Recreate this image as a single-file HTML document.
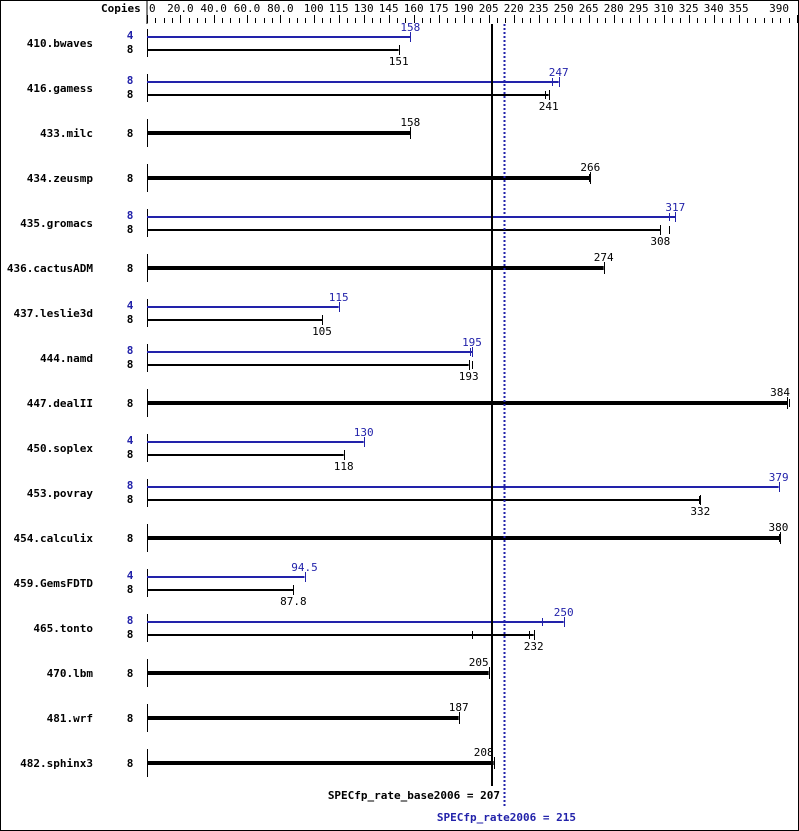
<!DOCTYPE html>
<html><head><meta charset="utf-8"><style>
html,body{margin:0;padding:0;background:#fff}
svg{display:block}
text{font-family:"DejaVu Sans Mono","Liberation Mono",monospace;font-size:11px}
.b{font-weight:bold}
</style></head><body>
<svg id="s" width="799" height="831" xmlns="http://www.w3.org/2000/svg"></svg>
<script>
var s=document.getElementById('s'),h='';
var X=function(v){return 147+v*5/3;};
var BL='#2222aa';
h+='<rect x="0.5" y="0.5" width="798" height="830" fill="#fff" stroke="#000"/>';
h+='<text x="101" y="12" class="b">Copies</text>';
h+='<line x1="147" y1="0" x2="147" y2="24" stroke="#000"/>';
var labs=[0,20,40,60,80,100,115,130,145,160,175,190,205,220,235,250,265,280,295,310,325,340,355,390];
for(var v=0;v<=390;v+=5){var x=Math.round(X(v))+0.5;var maj=labs.indexOf(v)>=0;h+='<line x1="'+x+'" y1="'+(maj?15:18)+'" x2="'+x+'" y2="23" stroke="#000"/>';}
labs.forEach(function(v){var t=v<100&&v>0?v.toFixed(1):''+v;var x=X(v);var a='middle';if(v==0){x=149;a='start';}if(v==390){x=789;a='end';}h+='<text x="'+x+'" y="12" text-anchor="'+a+'">'+t+'</text>';});
var D=[
['410.bwaves',[4,158,[]],[8,151,[]]],
['416.gamess',[8,247,[243]],[8,241,[239]]],
['433.milc',null,[8,158,[]]],
['434.zeusmp',null,[8,266,[265]]],
['435.gromacs',[8,317,[313]],[8,308,[313]]],
['436.cactusADM',null,[8,274,[]]],
['437.leslie3d',[4,115,[]],[8,105,[]]],
['444.namd',[8,195,[194]],[8,193,[195]]],
['447.dealII',null,[8,384,[385]]],
['450.soplex',[4,130,[]],[8,118,[]]],
['453.povray',[8,379,[]],[8,332,[331]]],
['454.calculix',null,[8,380,[379]]],
['459.GemsFDTD',[4,94.5,[]],[8,87.8,[]]],
['465.tonto',[8,250,[237]],[8,232,[195,229]]],
['470.lbm',null,[8,205,[]],'end'],
['481.wrf',null,[8,187,[]]],
['482.sphinx3',null,[8,208,[]],'end']];
D.forEach(function(r,i){var c=43+45*i;
h+='<text x="93" y="'+(c+4)+'" class="b" text-anchor="end">'+r[0]+'</text>';
h+='<line x1="147.5" y1="'+(c-14)+'" x2="147.5" y2="'+(c+14)+'" stroke="#000"/>';
function bar(d,y,col,w,ly,anc){var x=X(d[1]);h+='<line x1="147" y1="'+y+'" x2="'+x+'" y2="'+y+'" stroke="'+col+'" stroke-width="'+w+'"/>';
h+='<line x1="'+(Math.round(x)+0.5)+'" y1="'+(y-4-w/2)+'" x2="'+(Math.round(x)+0.5)+'" y2="'+(y+4+w/2)+'" stroke="'+col+'"/>';
d[2].forEach(function(t){var tx=Math.round(X(t))+0.5;h+='<line x1="'+tx+'" y1="'+(y-4)+'" x2="'+tx+'" y2="'+(y+4)+'" stroke="'+col+'"/>';});
var lx=x;if(d[1]>=380){lx=Math.min(x+8,790);anc='end';}
h+='<text x="'+lx+'" y="'+ly+'" text-anchor="'+(anc||'middle')+'" fill="'+col+'">'+d[1]+'</text>';}
if(r[1]){h+='<text x="130" y="'+(c-4)+'" class="b" text-anchor="middle" fill="'+BL+'">'+r[1][0]+'</text>';
h+='<text x="130" y="'+(c+10)+'" class="b" text-anchor="middle">'+r[2][0]+'</text>';
bar(r[1],c-6,BL,2,c-12);bar(r[2],c+7,'#000',2,c+22);}
else{h+='<text x="130" y="'+(c+4)+'" class="b" text-anchor="middle">'+r[2][0]+'</text>';bar(r[2],c,'#000',4,c-7,r[3]);}
});
h+='<line x1="492" y1="24" x2="492" y2="786" stroke="#000" stroke-width="2"/>';
h+='<line x1="504.5" y1="24" x2="504.5" y2="808" stroke="'+BL+'" stroke-width="2" stroke-dasharray="2,2"/>';
h+='<text x="500" y="799" class="b" text-anchor="end">SPECfp_rate_base2006 = 207</text>';
h+='<text x="576" y="821" class="b" text-anchor="end" fill="'+BL+'">SPECfp_rate2006 = 215</text>';
s.innerHTML=h;
</script>
</body></html>
